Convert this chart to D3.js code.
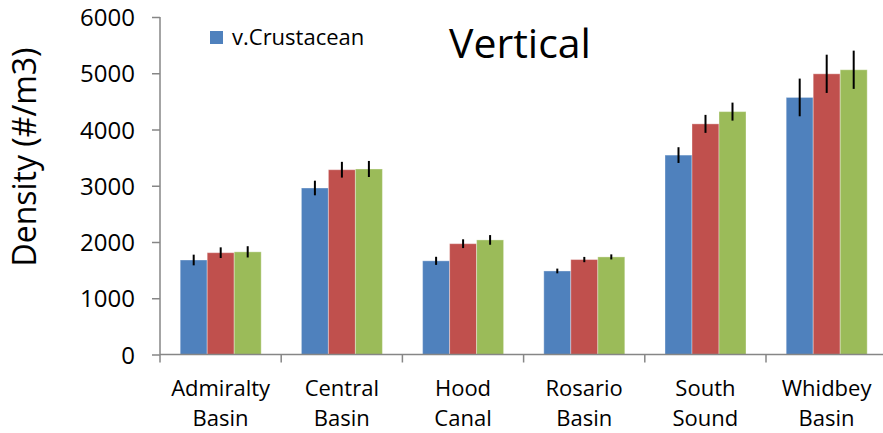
<!DOCTYPE html>
<html>
<head>
<meta charset="utf-8">
<script src="https://cdn.jsdelivr.net/npm/d3@7"></script>
<style>
  body { margin: 0; background: #fff; }
  svg { display: block; font-family: "Open Sans", sans-serif; }
</style>
</head>
<body>
<div id="chart"></div>
<script>
// categories and series values
const categories = ["Admiralty Basin", "Central Basin", "Hood Canal", "Rosario Basin", "South Sound", "Whidbey Basin"];
const seriesNames = ["v.Crustacean", "s2", "s3"];
const blueVals = [1680, 2960, 1665, 1485, 3545, 4570];
const redVals = [1810, 3285, 1970, 1688, 4100, 4990];
const greenVals = [1825, 3298, 2037, 1735, 4318, 5062];
const blueErr = [95, 130, 72, 42, 140, 335];
const redErr = [95, 140, 78, 47, 160, 340];
const greenErr = [100, 143, 86, 45, 160, 340];
const yTicks = [0, 1000, 2000, 3000, 4000, 5000, 6000];

const colors = ["#4F81BD", "#C0504D", "#9BBB59"];
const W = 883, H = 433;
const left = 160, zeroY = 354.5, topY = 17;
const band = 121.2;

const svg = d3.select("#chart").append("svg")
  .attr("width", W).attr("height", H);

const x0 = d3.scaleBand()
  .domain(categories)
  .range([left, left + band * categories.length])
  .padding(0);

const x1 = d3.scaleBand()
  .domain(seriesNames)
  .range([20.2, 101.2])
  .padding(0);

const y = d3.scaleLinear()
  .domain([0, 6000])
  .range([zeroY, topY]);

const vals = [blueVals, redVals, greenVals];
const errs = [blueErr, redErr, greenErr];

// bars
const groups = svg.append("g").selectAll("g")
  .data(categories)
  .join("g")
  .attr("transform", d => `translate(${x0(d)},0)`);

groups.selectAll("rect")
  .data((d, i) => seriesNames.map((s, j) => ({ s, j, v: vals[j][i], e: errs[j][i] })))
  .join("rect")
  .attr("x", d => x1(d.s))
  .attr("y", d => y(d.v))
  .attr("width", x1.bandwidth())
  .attr("height", d => zeroY - y(d.v))
  .attr("fill", d => colors[d.j])
  .attr("stroke", "#ffffff")
  .attr("stroke-opacity", 0.35)
  .attr("stroke-width", 1);

// error bars
groups.selectAll("line")
  .data((d, i) => seriesNames.map((s, j) => ({ s, j, v: vals[j][i], e: errs[j][i] })))
  .join("line")
  .attr("x1", d => x1(d.s) + x1.bandwidth() / 2)
  .attr("x2", d => x1(d.s) + x1.bandwidth() / 2)
  .attr("y1", d => y(d.v + d.e))
  .attr("y2", d => y(d.v - d.e))
  .attr("stroke", "#000")
  .attr("stroke-width", 2);

// y axis
const yAxis = svg.append("g")
  .attr("transform", `translate(${left},0)`)
  .call(d3.axisLeft(y).tickValues(yTicks).tickSize(8).tickPadding(17).tickFormat(d3.format("d")));
yAxis.select(".domain").attr("stroke", "#868686").attr("stroke-width", 1.5).attr("d", `M0,${topY}V${zeroY}`);
yAxis.selectAll(".tick line").attr("stroke", "#868686").attr("stroke-width", 1.5);
yAxis.selectAll(".tick text")
  .attr("fill", "#000")
  .attr("font-family", "Open Sans")
  .attr("font-size", 24)
  .attr("dy", "0.36em");

// x axis
const xAxis = svg.append("g")
  .attr("transform", `translate(0,${zeroY})`);
xAxis.append("line")
  .attr("x1", left).attr("x2", W)
  .attr("stroke", "#868686").attr("stroke-width", 1.5);
xAxis.selectAll(".cat-tick")
  .data(categories)
  .join("line")
  .attr("class", "cat-tick")
  .attr("x1", d => x0(d)).attr("x2", d => x0(d))
  .attr("y1", 0).attr("y2", 8)
  .attr("stroke", "#868686").attr("stroke-width", 1.5);

xAxis.selectAll(".cat-label")
  .data(categories)
  .join("text")
  .attr("class", "cat-label")
  .attr("text-anchor", "middle")
  .attr("font-size", 22)
  .attr("fill", "#000")
  .attr("transform", d => `translate(${x0(d) + band / 2},0)`)
  .each(function (d) {
    const words = d.split(" ");
    d3.select(this).selectAll("tspan")
      .data(words)
      .join("tspan")
      .attr("x", 0)
      .attr("y", (w, k) => 41 + k * 30)
      .text(w => w);
  });

// y axis title
svg.append("text")
  .attr("transform", "translate(36,157) rotate(-90)")
  .attr("text-anchor", "middle")
  .attr("font-size", 32)
  .attr("fill", "#000")
  .text("Density (#/m3)");

// chart title
svg.append("text")
  .attr("x", 520).attr("y", 58)
  .attr("text-anchor", "middle")
  .attr("font-size", 41)
  .attr("fill", "#000")
  .text("Vertical");

// legend (only first series shown)
const legend = svg.append("g").attr("transform", "translate(210,31)");
legend.append("rect")
  .attr("width", 13).attr("height", 13)
  .attr("fill", colors[0]);
legend.append("text")
  .attr("x", 22).attr("y", 14)
  .attr("font-size", 22)
  .attr("fill", "#000")
  .text(seriesNames[0]);
</script>
</body>
</html>
